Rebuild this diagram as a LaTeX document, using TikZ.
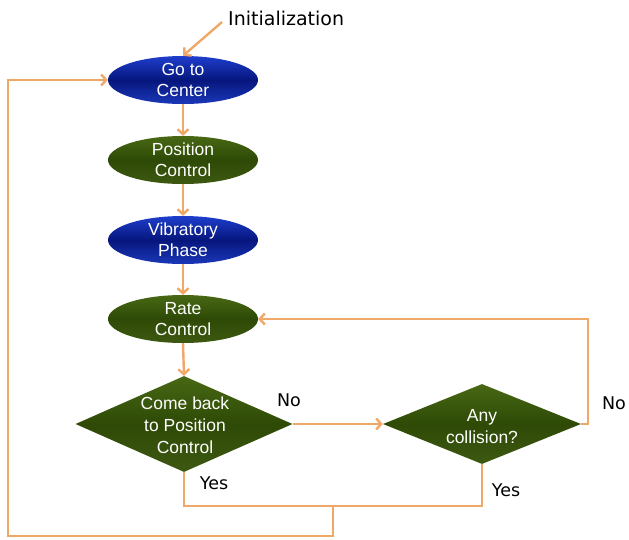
\documentclass[tikz,border=0pt]{standalone}
\usepackage{fontspec}
\setmainfont{Liberation Sans}
\newfontfamily\labfont{DejaVu Sans}
\usetikzlibrary{shapes.geometric,arrows.meta}
\definecolor{lineor}{RGB}{240,168,104}
\definecolor{blueA}{RGB}{30,62,205}
\definecolor{blueB}{RGB}{6,22,125}
\definecolor{greenA}{RGB}{72,104,20}
\definecolor{greenB}{RGB}{46,74,6}
\tikzset{
  conn/.style={draw=lineor,line width=2.4pt},
  arr/.style={conn,-{Straight Barb[length=5pt,width=11pt]}},
  bluebox/.style={ellipse,minimum width=150pt,minimum height=48pt,inner sep=0pt,
    top color=blueA,bottom color=blueA!90!black,middle color=blueB,text=white,
    font=\fontsize{17.5}{21}\selectfont,align=center},
  greenbox/.style={ellipse,minimum width=150pt,minimum height=48pt,inner sep=0pt,
    top color=greenA,bottom color=greenA!85!black,middle color=greenB,text=white,
    font=\fontsize{17.5}{21}\selectfont,align=center},
  decbox/.style={diamond,inner sep=0pt,
    top color=greenA,bottom color=greenA!85!black,middle color=greenB},
  dectext/.style={text=white,font=\fontsize{17.5}{22}\selectfont,align=center,inner sep=0pt},
  lab/.style={font=\labfont\fontsize{17.5}{20}\selectfont,inner sep=0pt},
}
\begin{document}
\begin{tikzpicture}[x=1pt,y=-1pt]
\useasboundingbox (0,0) rectangle (629,539);
\node[bluebox] (gc) at (183,80) {Go to\\Center};
\node[greenbox] (pc) at (183,160) {Position\\Control};
\node[bluebox] (vp) at (183,240) {Vibratory\\Phase};
\node[greenbox] (rc) at (183,319) {Rate\\Control};
\node[decbox,minimum width=217pt,minimum height=96pt] (d1) at (184,424) {};
\node[dectext] (d1t) at (185,425) {Come back\\to Position\\Control};
\node[decbox,minimum width=198pt,minimum height=80pt] (d2) at (482,424) {};
\node[dectext] (d2t) at (482,427) {Any\\collision?};
\node[lab,font=\labfont\fontsize{19}{22}\selectfont,anchor=west] (init) at (228,18) {Initialization};
\node[lab] (no1) at (289,400) {No};
\node[lab] (no2) at (614,403) {No};
\node[lab] (yes1) at (214,483) {Yes};
\node[lab] (yes2) at (506,490) {Yes};
\coordinate (is) at (222,22);
\coordinate (jn) at (333,506);
\coordinate (bl) at (8,536);
\draw[arr] (is) -- (gc.north);
\draw[arr] (gc.south) -- (pc.north);
\draw[arr] (pc.south) -- (vp.north);
\draw[arr] (vp.south) -- (rc.north);
\draw[arr] (rc.south) -- (d1.north);
\draw[arr] (d1.east) -- (d2.west);
\draw[arr] (d2.east) -- ++(7,0) |- (rc.east);
\draw[conn] (d1.south) |- (jn) -| (d2.south);
\draw[arr] (jn) |- (bl) |- (gc.west);
\end{tikzpicture}
\end{document}
